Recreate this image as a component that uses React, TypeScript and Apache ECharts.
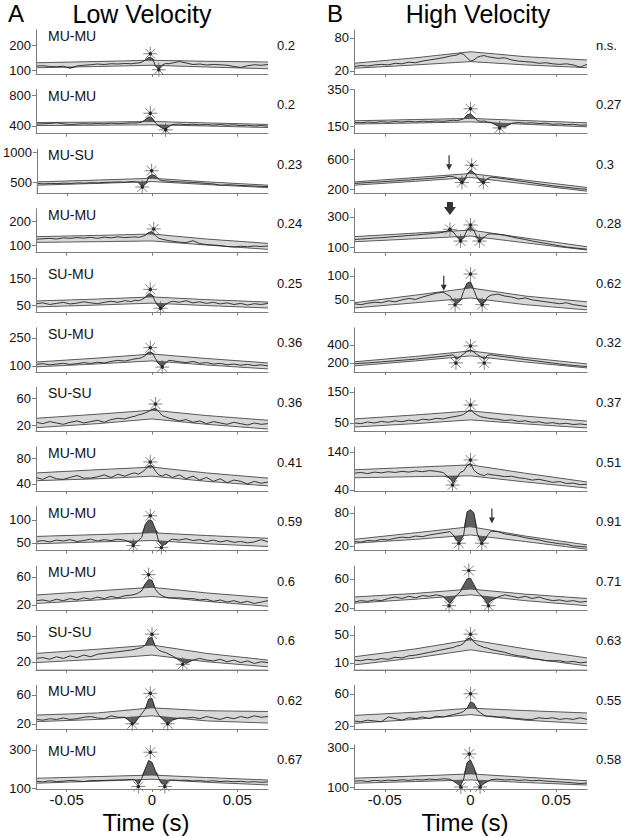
import React, { useEffect, useRef } from "react";
import * as echarts from "echarts";

// Time bins (s) at which the cross-correlogram counts were read
const T = [-0.068,-0.064,-0.06,-0.056,-0.052,-0.048,-0.044,-0.04,-0.036,-0.032,-0.028,-0.024,-0.02,-0.016,-0.012,
  -0.01,-0.008,-0.006,-0.004,-0.002,0,0.002,0.004,0.006,0.008,0.01,
  0.012,0.016,0.02,0.024,0.028,0.032,0.036,0.04,0.044,0.048,0.052,0.056,0.06,0.064,0.068];
// Times of the confidence-band anchor points
const BAND_T = [-0.068, -0.032, 0, 0.032, 0.068];
const X_TICKS = [-0.05, 0, 0.05];

// ---------- A: Low velocity ----------
const lowPairs = ["MU-MU","MU-MU","MU-SU","MU-MU","SU-MU","SU-MU","SU-SU","MU-MU","MU-MU","MU-MU","SU-SU","MU-MU","MU-MU"];
const lowR = ["0.2","0.2","0.23","0.24","0.25","0.36","0.36","0.41","0.59","0.6","0.6","0.62","0.67"];
const lowTicks = [[100,200],[400,800],[500,1000],[100,200],[50,150],[100,250],[20,60],[40,80],[50,100],[20,60],[20,50],[20,60],[100,300]];
const lowRange = [[84,260],[302,870],[317,1050],[68,251],[23,186],[68,304],[10.4,75.6],[29,97],[33,129],[12.4,75],[10.4,63],[12.3,73],[95,326]];
const lowUpper = [[129,134,139,135,132],[445,450,458,440,420],[505,535,565,505,450],[135,140,146,125,107],[65,72,80,70,61],[121,142,164,140,116],[30,36,42,34,27],[57,62,66,57,49],[64,68,72,66,60],[34,40,45,37,30],[30,35,40,30,22],[32,35,42,38,37],[151,160,168,155,142]];
const lowLower = [[109,114,119,112,105],[405,410,415,400,380],[450,480,510,460,410],[111,114,117,100,82],[43,50,57,48,39],[95,111,127,105,84],[16,22,29,21,14],[45,48,52,44,37],[48,52,55,48,42],[22,27,32,25,18],[19,23,28,20,14],[23,26,31,24,21],[125,136,146,130,116]];
const lowCounts = [
  [116,117,114,113,115,107,116,119,121,124,122,125,124,126,125, 127,128,131,140,150,148,118,104,120,126,125, 128,134,128,122,124,120,122,121,119,114,110,117,121,119,122],
  [425,428,432,440,428,420,425,430,426,432,428,436,430,434,440, 438,442,450,480,515,505,440,400,370,360,395, 420,425,418,422,415,420,412,418,410,415,405,410,400,406,398],
  [478,472,480,476,484,480,488,484,492,488,496,500,504,500,510, 505,500,425,470,600,625,600,540,525,520,515, 510,505,500,495,488,478,470,448,458,452,445,440,436,430,428],
  [124,126,128,125,130,128,131,129,132,128,133,130,134,131,133, 134,132,135,140,152,156,140,128,124,121,118, 116,112,110,118,106,102,100,98,94,92,95,93,96,94,96],
  [55,58,52,56,60,54,57,62,58,55,60,64,60,66,63, 68,66,70,78,92,88,62,45,40,52,60, 64,60,66,58,62,56,60,54,58,52,56,50,55,52,56],
  [108,112,106,110,114,108,112,118,113,120,116,124,130,126,134, 138,140,145,155,175,172,140,110,96,118,130, 128,122,118,124,114,118,110,114,106,110,104,108,102,106,100],
  [24,22,25,23,21,24,26,23,25,27,24,28,30,29,32, 33,35,36,38,40,43,45,40,34,32,30, 29,26,28,24,26,22,25,23,21,24,22,20,23,21,22],
  [50,47,52,48,47,50,53,49,49,51,54,50,55,52,56, 57,55,58,62,68,68,60,54,52,55,53, 50,54,48,52,46,50,44,48,42,46,44,40,44,41,43],
  [53,55,52,56,54,57,53,55,58,54,57,55,58,56,50, 47,55,62,90,100,98,80,52,44,47,55, 58,56,59,55,57,53,56,52,55,51,53,50,52,57,52],
  [26,27,25,28,26,29,27,30,28,31,29,32,30,33,34, 35,37,40,50,56,55,42,36,33,31,30, 30,30,29,29,27,28,25,27,24,26,23,25,22,24,26],
  [24,25,23,26,24,27,25,28,26,29,30,31,32,33,34, 35,36,37,40,48,49,38,34,32,31,29, 27,22,18,22,24,22,21,23,20,22,19,21,18,20,19],
  [26,25,27,26,28,26,27,29,30,28,27,31,29,29,22, 21,28,34,40,54,55,40,32,27,22,21, 25,28,28,29,27,30,28,26,29,27,30,28,31,29,30],
  [135,132,138,134,136,140,137,134,139,139,140,141,142,143,145, 143,118,150,200,245,235,190,150,122,118,141, 142,140,141,137,139,135,138,134,136,133,135,131,133,130,132],
];
const lowStars = [
  [[-0.001,165],[0.004,101]],
  [[-0.001,565],[0.008,350]],
  [[-0.0005,690],[-0.006,420]],
  [[0.001,167]],
  [[-0.001,108],[0.005,38]],
  [[-0.001,198],[0.006,94]],
  [[0.002,51]],
  [[-0.001,74]],
  [[-0.001,109],[-0.011,44],[0.0055,40]],
  [[-0.002,63]],
  [[0,53],[0.018,17]],
  [[-0.001,62],[-0.0116,20],[0.0092,20]],
  [[-0.001,288],[-0.008,108],[0.0075,108]],
];

// ---------- B: High velocity ----------
const highR = ["n.s.","0.27","0.3","0.28","0.62","0.32","0.37","0.51","0.91","0.71","0.63","0.55","0.58"];
const highTicks = [[20,80],[150,350],[200,600],[100,300],[50,100],[200,400],[50,150],[40,140],[20,80],[20,60],[10,50],[20,60],[100,300]];
const highRange = [[14.5,94.5],[109,350],[147,733],[62,355],[24,116],[100,589],[22.6,164.5],[37,153],[11.5,91.5],[16.8,77.5],[0,63],[15.5,70.5],[90,315]];
const highUpper = [[34,44,55,46,40],[179,186,192,180,168],[297,355,409,320,223],[169,193,213,160,102],[44,60,75,58,46],[212,272,333,260,189],[63,76,89,72,56],[93,100,106,84,61],[32,44,55,38,22],[35,40,46,39,33],[18.6,30,43,30,17],[33,37,42,39,36],[145,156,167,150,132]];
const highLower = [[25,31,37,31,26],[161,167,173,160,146],[253,305,356,270,173],[135,155,173,128,80],[33,44,54,40,29],[167,222,278,210,144],[37,48,60,47,34],[72,75,77,61,45],[25,32,40,28,14],[26.5,32,38,30,23],[7,17,28.6,17,5.7],[23,28,34,27,22.5],[119,128,136,123,110]];
const highCounts = [
  [28,30,29,31,32,31,34,33,36,35,38,40,42,44,47, 48,49,52,50,44,38,40,45,47,48,46, 45,43,44,40,38,37,36,34,35,33,32,33,31,27,32],
  [170,168,172,170,174,171,175,172,176,173,177,175,178,176,180, 182,180,184,190,212,218,200,180,176,178,172, 170,150,145,165,170,166,168,164,166,160,162,158,160,155,156],
  [275,282,288,294,298,305,310,318,322,330,336,342,350,356,372, 365,350,310,300,400,455,420,360,300,295,340, 360,350,338,325,310,298,285,270,258,245,235,225,215,205,198],
  [150,153,156,160,162,166,170,173,177,180,184,188,192,198,212, 200,170,145,160,215,235,210,160,145,165,185, 188,185,178,168,158,150,140,132,124,116,108,100,95,90,86],
  [42,40,43,45,44,48,46,50,53,51,56,60,64,66,58, 48,42,48,68,85,88,70,52,42,45,56, 60,62,58,56,52,54,50,48,46,44,42,44,40,38,36],
  [190,196,200,206,212,218,224,230,236,242,250,258,266,274,285, 290,240,270,300,330,345,320,290,270,240,285, 290,278,268,258,248,238,228,218,208,198,188,180,172,165,160],
  [50,48,53,50,55,52,57,54,59,56,62,60,65,63,68, 70,72,74,78,86,93,82,75,70,68,66, 64,62,58,60,55,57,52,54,49,51,47,49,45,47,44],
  [84,86,83,87,85,88,86,89,87,90,88,91,89,86,70, 58,72,86,90,104,110,92,84,80,78,82, 80,78,75,76,72,70,66,68,64,60,62,57,58,54,55],
  [28,27,30,29,32,31,34,36,35,38,37,40,42,44,46, 40,30,28,40,82,86,80,42,28,30,40, 47,46,42,40,38,35,33,31,28,26,24,23,20,19,18],
  [28,30,29,31,30,33,35,33,36,34,37,36,38,36,26, 32,38,42,52,60,61,52,42,38,32,25, 30,35,38,36,34,36,33,35,32,30,31,29,30,28,29],
  [14,13,15,14,16,15,18,17,20,21,23,25,27,29,31, 32,34,35,38,44,46,40,36,34,32,31, 29,27,25,22,20,19,16,15,13,13,13,11,12,10,11],
  [26,25,27,26,25,31,29,27,30,29,31,29,32,31,33, 34,35,36,38,42,50,48,39,36,33,32, 32,31,31,29.5,29,28,28,30,29,30,28,29,28,30,28],
  [130,132,128,134,131,135,133,137,134,138,136,140,138,142,140, 130,118,105,140,225,238,200,140,105,118,128, 138,140,136,138,134,136,132,134,130,128,126,124,121,118,120],
];
const highStars = [
  [],
  [[0,245],[0.017,140]],
  [[0.0007,519],[-0.005,289],[0.0075,289]],
  [[0,247],[-0.012,218],[-0.0058,140],[0.0052,140]],
  [[0,104],[-0.009,40],[0.0068,40]],
  [[0,389],[-0.0085,200],[0.008,200]],
  [[0,108]],
  [[0,119],[-0.0105,53]],
  [[-0.0068,25],[0.0066,25]],
  [[-0.001,71.5],[-0.0125,23],[0.0105,23]],
  [[0,51]],
  [[0,60]],
  [[-0.0007,269],[-0.0056,100],[0.0056,100]],
];
// [panel index, time, tip value, bold]
const highArrows = [[2,-0.0125,453,0],[3,-0.012,313,1],[4,-0.0156,69,0],[8,0.0125,61,0]];

const FONT = '"Liberation Sans", Arial, Helvetica, sans-serif';
const DARK = "#5e5e5e";
const LIGHT = "#d8d8d8";
const AXIS = "#7d7d7d";
const ROW0 = 74;
const ROW_STEP = 59.58;
const PANEL_H = 44;
const COLS = [{ left: 36, width: 232 }, { left: 354, width: 233 }];
const STAR = "path://M0,5L10,5M5,0L5,10M1.5,1.5L8.5,8.5M8.5,1.5L1.5,8.5";
const THIN_ARROW = "path://M2.4,0L3.6,0L3.6,9L6,9L3,15L0,9L2.4,9Z";
const BOLD_ARROW = "path://M3,0L9,0L9,5L12,5L6,13L0,5L3,5Z";

function interp(xs: number[], ys: number[], x: number) {
  for (let i = 0; i < xs.length - 1; i++) {
    if (x >= xs[i] && x <= xs[i + 1]) {
      const f = (x - xs[i]) / (xs[i + 1] - xs[i]);
      return ys[i] + f * (ys[i + 1] - ys[i]);
    }
  }
  return ys[ys.length - 1];
}

function buildOption() {
  const grid: any[] = [];
  const xAxis: any[] = [];
  const yAxis: any[] = [];
  const series: any[] = [];
  const graphic: any[] = [];

  const cols = [
    { counts: lowCounts, up: lowUpper, lo: lowLower, ticks: lowTicks, range: lowRange, stars: lowStars, r: lowR, numX: 277 },
    { counts: highCounts, up: highUpper, lo: highLower, ticks: highTicks, range: highRange, stars: highStars, r: highR, numX: 596 },
  ];

  cols.forEach((col, c) => {
    for (let r = 0; r < 13; r++) {
      const g = grid.length;
      const bottom = ROW0 + r * ROW_STEP;
      const top = bottom - PANEL_H;
      grid.push({ left: COLS[c].left, top, width: COLS[c].width, height: PANEL_H });
      xAxis.push({
        gridIndex: g, type: "value", min: -0.068, max: 0.068, z: 10,
        axisLine: { show: true, onZero: false, lineStyle: { color: AXIS, width: 1 } },
        axisTick: { show: true, customValues: X_TICKS, length: 3, lineStyle: { color: AXIS } },
        axisLabel: {
          show: r === 12, customValues: X_TICKS, margin: 3, fontSize: 15, color: "#111", fontFamily: FONT,
          formatter: (v: number) => (v === 0 ? "0" : String(v)),
        },
        splitLine: { show: false },
      });
      yAxis.push({
        gridIndex: g, type: "value", min: col.range[r][0], max: col.range[r][1], z: 10,
        axisLine: { show: true, onZero: false, lineStyle: { color: AXIS, width: 1 } },
        axisTick: { show: true, customValues: col.ticks[r], length: 4, lineStyle: { color: AXIS } },
        axisLabel: {
          customValues: col.ticks[r], margin: 5, fontSize: 13, color: "#111", fontFamily: FONT,
          formatter: (v: number) => String(v),
        },
        splitLine: { show: false },
      });

      const counts = col.counts[r];
      const upAt = T.map((t) => interp(BAND_T, col.up[r], t));
      const loAt = T.map((t) => interp(BAND_T, col.lo[r], t));
      const layers = [
        { data: T.map((t, i) => [t, Math.max(counts[i], upAt[i])]), color: DARK },
        { data: T.map((t, i) => [t, upAt[i]]), color: LIGHT },
        { data: T.map((t, i) => [t, loAt[i]]), color: DARK },
        { data: T.map((t, i) => [t, Math.min(counts[i], loAt[i])]), color: "#ffffff" },
      ];
      layers.forEach((l) => {
        series.push({
          type: "line", xAxisIndex: g, yAxisIndex: g, data: l.data, symbol: "none", silent: true,
          lineStyle: { width: 0, opacity: 0 }, areaStyle: { color: l.color, opacity: 1, origin: "start" },
        });
      });
      [col.up[r], col.lo[r]].forEach((b) => {
        series.push({
          type: "line", xAxisIndex: g, yAxisIndex: g, data: BAND_T.map((t, i) => [t, b[i]]),
          symbol: "none", silent: true, lineStyle: { color: "#505050", width: 0.9 },
        });
      });
      series.push({
        type: "line", xAxisIndex: g, yAxisIndex: g, data: T.map((t, i) => [t, counts[i]]),
        symbol: "none", silent: true, lineStyle: { color: "#222", width: 0.9 },
      });
      if (col.stars[r].length) {
        series.push({
          type: "scatter", xAxisIndex: g, yAxisIndex: g, data: col.stars[r], symbol: STAR, symbolSize: 14,
          clip: false, silent: true, z: 5,
          itemStyle: { color: "rgba(0,0,0,0)", borderColor: "#555", borderWidth: 0.9 },
        });
        series.push({
          type: "scatter", xAxisIndex: g, yAxisIndex: g, data: col.stars[r], symbol: "circle", symbolSize: 3.5,
          clip: false, silent: true, z: 6, itemStyle: { color: "#111" },
        });
      }
      if (c === 1) {
        highArrows.filter((a) => a[0] === r).forEach((a) => {
          const bold = a[3] === 1;
          series.push({
            type: "scatter", xAxisIndex: g, yAxisIndex: g, data: [[a[1], a[2]]],
            symbol: bold ? BOLD_ARROW : THIN_ARROW, symbolSize: bold ? [12, 13] : [6, 15],
            symbolOffset: [0, "-50%"], clip: false, silent: true, z: 6, itemStyle: { color: "#000" },
          });
        });
      }

      graphic.push({
        type: "text", x: col.numX, y: top + 15, silent: true,
        style: { text: col.r[r], fontSize: 13, fontFamily: FONT, fill: "#111", textAlign: "left", textVerticalAlign: "middle", align: "left", verticalAlign: "middle" },
      });
      if (c === 0) {
        graphic.push({
          type: "text", x: 48, y: top + 6, silent: true,
          style: { text: lowPairs[r], fontSize: 14, fontFamily: FONT, fill: "#111", textAlign: "left", textVerticalAlign: "middle", align: "left", verticalAlign: "middle" },
        });
      }
    }
  });

  const txt = (text: string, x: number, y: number, size: number, align: string) => ({
    type: "text", x, y, silent: true,
    style: { text, fontSize: size, fontFamily: FONT, fill: "#000", textAlign: align, textVerticalAlign: "middle", align, verticalAlign: "middle" },
  });
  graphic.push(txt("A", 8, 13, 24, "left"));
  graphic.push(txt("Low Velocity", 142, 14, 25, "center"));
  graphic.push(txt("B", 327, 13, 24, "left"));
  graphic.push(txt("High Velocity", 478, 14, 25, "center"));
  graphic.push(txt("Time (s)", 146, 822, 24, "center"));
  graphic.push(txt("Time (s)", 465, 822, 24, "center"));

  return { animation: false, backgroundColor: "#fff", grid, xAxis, yAxis, series, graphic };
}

export default function App() {
  const ref = useRef<HTMLDivElement>(null);
  useEffect(() => {
    if (!ref.current) return;
    const chart = echarts.init(ref.current, undefined, { renderer: "svg" });
    chart.setOption(buildOption() as any);
    return () => chart.dispose();
  }, []);
  return <div ref={ref} style={{ position: "fixed", left: 0, top: 0, width: 622, height: 836, background: "#fff" }} />;
}
